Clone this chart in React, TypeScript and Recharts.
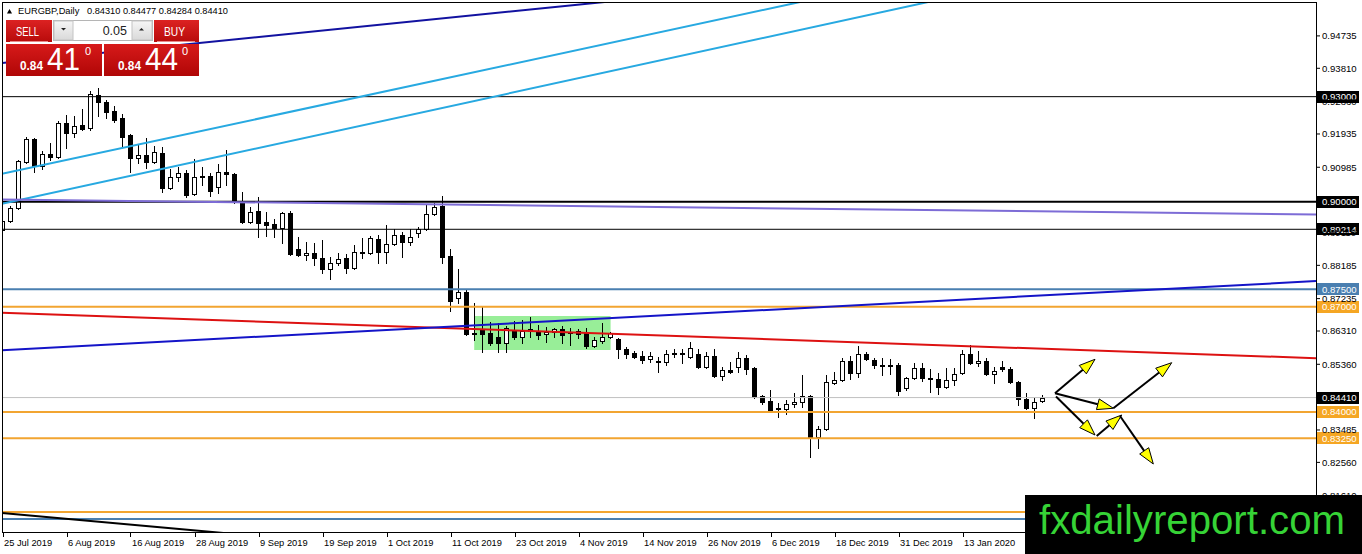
import React from 'react'
import { Bar, ComposedChart, ReferenceArea, ReferenceLine, XAxis, YAxis } from 'recharts'

// EURGBP daily, one entry per bar (bar 0 = 25 Jul 2019)
const OPEN = [
  0.89194, 0.89452, 0.89823, 0.91135, 0.91792, 0.91021, 0.91364, 0.91278, 0.92249, 0.91963,
  0.92191, 0.92106, 0.93048, 0.92848, 0.92591, 0.92391, 0.91906, 0.9125, 0.91335, 0.91135,
  0.91392, 0.90393, 0.90707, 0.90822, 0.90222, 0.90736, 0.90736, 0.90422, 0.9085, 0.90793,
  0.89994, 0.89423, 0.89737, 0.89423, 0.89366, 0.89252, 0.8968, 0.88652, 0.88481, 0.88538,
  0.88395, 0.88081, 0.88252, 0.88395, 0.88109, 0.88566, 0.88538, 0.88938, 0.88566, 0.88795,
  0.89052, 0.88852, 0.89109, 0.89223, 0.89651, 0.8988, 0.88452, 0.87253, 0.87424, 0.86254,
  0.8634, 0.86254, 0.8614, 0.85969, 0.8634, 0.8614, 0.86368, 0.86311, 0.86225, 0.86283,
  0.86368, 0.86283, 0.86311, 0.86283, 0.85883, 0.86026, 0.8614, 0.86083, 0.85797, 0.85683,
  0.85597, 0.85512, 0.85455, 0.85426, 0.85683, 0.85683, 0.85569, 0.85655, 0.85284, 0.85597,
  0.85027, 0.85198, 0.85284, 0.8554, 0.85255, 0.84456, 0.84313, 0.84113, 0.84085, 0.84227,
  0.84285, 0.84456, 0.83285, 0.83513, 0.84827, 0.84913, 0.85455, 0.85112, 0.85655, 0.85483,
  0.85341, 0.85341, 0.85341, 0.84684, 0.8497, 0.85255, 0.8497, 0.84941, 0.84713, 0.84913,
  0.85112, 0.85655, 0.85398, 0.85455, 0.85084, 0.85284, 0.85226, 0.84855, 0.8437, 0.84113,
  0.8431,
]
const HIGH = [
  0.89566, 0.8988, 0.91192, 0.91849, 0.9182, 0.91449, 0.91678, 0.92306, 0.92477, 0.92448,
  0.92648, 0.93162, 0.93248, 0.92905, 0.92734, 0.92505, 0.91935, 0.91649, 0.9182, 0.91592,
  0.91563, 0.90936, 0.90993, 0.90907, 0.91221, 0.90993, 0.90822, 0.91078, 0.91478, 0.90822,
  0.90279, 0.89851, 0.90137, 0.89708, 0.89509, 0.89708, 0.89737, 0.88995, 0.88852, 0.88823,
  0.88909, 0.88424, 0.88538, 0.88509, 0.88766, 0.88966, 0.89023, 0.89052, 0.89337, 0.89223,
  0.89137, 0.89223, 0.8928, 0.89937, 0.89965, 0.90165, 0.88652, 0.88081, 0.87482, 0.8711,
  0.86996, 0.86568, 0.8654, 0.86454, 0.86597, 0.86625, 0.86711, 0.86482, 0.86425, 0.86397,
  0.86454, 0.86397, 0.86368, 0.86397, 0.8614, 0.8654, 0.86283, 0.86111, 0.85854, 0.8574,
  0.8574, 0.85712, 0.85569, 0.85769, 0.85797, 0.85797, 0.85997, 0.85797, 0.85712, 0.85797,
  0.85284, 0.85426, 0.85712, 0.85626, 0.85284, 0.84484, 0.84627, 0.84256, 0.84342, 0.84541,
  0.85055, 0.84484, 0.83599, 0.85055, 0.85141, 0.8554, 0.85597, 0.85883, 0.85712, 0.8554,
  0.8554, 0.85512, 0.85398, 0.84998, 0.85398, 0.85398, 0.85226, 0.85112, 0.85255, 0.85255,
  0.85769, 0.85912, 0.8574, 0.8554, 0.85284, 0.85455, 0.85284, 0.84884, 0.84541, 0.84399,
  0.84477,
]
const LOW = [
  0.88852, 0.89423, 0.89794, 0.91107, 0.9085, 0.90936, 0.91192, 0.9125, 0.91535, 0.91849,
  0.92049, 0.92049, 0.92448, 0.92391, 0.92277, 0.91563, 0.9085, 0.91107, 0.90964, 0.91107,
  0.90279, 0.90365, 0.90593, 0.90137, 0.90194, 0.90479, 0.90165, 0.90251, 0.90479, 0.89965,
  0.89394, 0.89394, 0.88995, 0.89023, 0.88995, 0.88823, 0.88481, 0.88452, 0.88338, 0.88195,
  0.87967, 0.87795, 0.88195, 0.87967, 0.88081, 0.88395, 0.88509, 0.88252, 0.88252, 0.88766,
  0.88424, 0.88766, 0.88995, 0.89194, 0.89623, 0.88252, 0.86882, 0.8711, 0.86197, 0.86054,
  0.85712, 0.85912, 0.85712, 0.85712, 0.86083, 0.85969, 0.8614, 0.86083, 0.85997, 0.8614,
  0.85969, 0.85912, 0.86111, 0.85826, 0.85854, 0.85969, 0.86111, 0.8554, 0.8554, 0.8554,
  0.85398, 0.85426, 0.85141, 0.85341, 0.85569, 0.85398, 0.8554, 0.85255, 0.85255, 0.84998,
  0.84913, 0.85112, 0.85141, 0.85084, 0.84399, 0.84227, 0.84028, 0.83856, 0.83942, 0.84142,
  0.84142, 0.82714, 0.82971, 0.83485, 0.84798, 0.84884, 0.84941, 0.84998, 0.85483, 0.85255,
  0.85055, 0.85084, 0.84484, 0.84627, 0.84941, 0.84884, 0.8457, 0.84513, 0.84684, 0.8477,
  0.85084, 0.85369, 0.85312, 0.85055, 0.84827, 0.85169, 0.84827, 0.84199, 0.84085, 0.83828,
  0.84284,
]
const CLOSE = [
  0.89452, 0.89823, 0.91164, 0.91792, 0.91021, 0.91364, 0.91278, 0.92249, 0.91963, 0.92163,
  0.92077, 0.93077, 0.92848, 0.92563, 0.92334, 0.91849, 0.9125, 0.91335, 0.91135, 0.91421,
  0.90393, 0.90707, 0.90822, 0.90194, 0.90707, 0.90707, 0.90308, 0.9085, 0.90793, 0.89994,
  0.89423, 0.89708, 0.89394, 0.89337, 0.89252, 0.8968, 0.88509, 0.88481, 0.88538, 0.88395,
  0.88081, 0.88252, 0.88366, 0.88109, 0.88566, 0.88538, 0.88966, 0.88566, 0.88795, 0.89052,
  0.88852, 0.88995, 0.89223, 0.89651, 0.89851, 0.88424, 0.87167, 0.87424, 0.86225, 0.86225,
  0.86225, 0.85969, 0.85969, 0.86397, 0.8614, 0.86311, 0.86311, 0.86197, 0.86283, 0.86368,
  0.86197, 0.86254, 0.86225, 0.85883, 0.86054, 0.8614, 0.86254, 0.85797, 0.85655, 0.85569,
  0.85483, 0.85597, 0.85426, 0.85655, 0.85655, 0.85655, 0.85826, 0.85284, 0.85597, 0.85027,
  0.85198, 0.85141, 0.8554, 0.85226, 0.84427, 0.84285, 0.84056, 0.84085, 0.84227, 0.84285,
  0.84456, 0.83285, 0.83513, 0.84855, 0.84913, 0.85455, 0.85112, 0.85655, 0.85512, 0.85341,
  0.85312, 0.85312, 0.84598, 0.8497, 0.85255, 0.8497, 0.84941, 0.84713, 0.84913, 0.85084,
  0.85655, 0.85398, 0.85455, 0.85084, 0.85169, 0.85226, 0.84855, 0.8437, 0.84113, 0.84285,
  0.8441,
]

// bar index of every date label on the time axis
const DATE_TICKS = [0, 8, 16, 24, 32, 40, 48, 56, 64, 72, 80, 88, 96, 104, 112, 120]
const DATE_LABELS = [
  '25 Jul 2019', '6 Aug 2019', '16 Aug 2019', '28 Aug 2019', '9 Sep 2019', '19 Sep 2019',
  '1 Oct 2019', '11 Oct 2019', '23 Oct 2019', '4 Nov 2019', '14 Nov 2019', '26 Nov 2019',
  '6 Dec 2019', '18 Dec 2019', '31 Dec 2019', '13 Jan 2020',
]
// price scale labels that are not fully hidden by the level tags
const PRICE_TICKS = [
  0.94735, 0.9381, 0.9286, 0.91935, 0.90985, 0.8911, 0.88185, 0.87235, 0.8631,
  0.8536, 0.83485, 0.8256, 0.8161,
]

// horizontal levels (price)
const LEVELS = [0.93, 0.9, 0.89214, 0.875, 0.87, 0.8441, 0.84, 0.8325, 0.81144, 0.80944]
// trend lines: [bar, price, bar, price]
const TRENDS = [
  [-0.125, 0.93959, 76, 0.95721],
  [-0.125, 0.90796, 100, 0.9572],
  [-0.125, 0.89939, 116, 0.9572],
  [-0.125, 0.90065, 164.125, 0.89637],
  [-0.125, 0.86831, 164.125, 0.85534],
  [-0.125, 0.85763, 164.125, 0.87736],
  [-0.125, 0.81115, 29.6, 0.80502],
]
// arrows drawn on the right: [bar, price, bar, price]
const ARROWS = [
  [131.5, 0.84533, 136.5, 0.85503],
  [131.5, 0.84533, 138.79, 0.84105],
  [131.625, 0.84439, 136.5, 0.83342],
  [136.71, 0.83314, 139.84, 0.83913],
  [138.79, 0.84105, 146.09, 0.85406],
  [139.625, 0.83885, 143.79, 0.82514],
]
// consolidation box: bar range and price range
const BOX = { x1: 58.9, x2: 75.95, lo: 0.85769, hi: 0.8674 }

const LEVEL_LOOK = [
  { stroke: '#000', w: 1, tag: '#000' },
  { stroke: '#000', w: 2, tag: '#000' },
  { stroke: '#000', w: 1, tag: '#000' },
  { stroke: '#4a7fb0', w: 2, tag: '#4a7fb0' },
  { stroke: '#f2a531', w: 2, tag: '#f5a623' },
  { stroke: '#c0c0c0', w: 1, tag: '#000' },
  { stroke: '#f2a531', w: 2, tag: '#f5a623' },
  { stroke: '#f2a531', w: 2, tag: '#f5a623' },
  { stroke: '#f2a531', w: 2, tag: null },
  { stroke: '#4a7fb0', w: 2, tag: null },
]
const TREND_LOOK = ['#1212a0', '#27a9e1', '#27a9e1', '#7d6cd6', '#dd1111', '#1414c8', '#000']

const rows = OPEN.map((o, i) => ({
  i,
  o,
  h: HIGH[i],
  l: LOW[i],
  c: CLOSE[i],
  range: [LOW[i], HIGH[i]],
}))

const FONT = "'Liberation Sans', Arial, sans-serif"

function Candle(props: any) {
  const { x, y, width, height, payload } = props
  if (!payload || x == null) return null
  const top = Math.min(y, y + height)
  const bot = Math.max(y, y + height)
  const span = payload.h - payload.l
  const toY = (v: number) => (span > 0 ? top + ((payload.h - v) / span) * (bot - top) : top)
  const cx = Math.floor(x + width / 2) + 0.5
  const bTop = Math.round(toY(Math.max(payload.o, payload.c))) + 0.5
  const bBot = Math.round(toY(Math.min(payload.o, payload.c))) + 0.5
  const up = payload.c >= payload.o
  return (
    <g shapeRendering="crispEdges">
      <line x1={cx} x2={cx} y1={Math.round(top)} y2={Math.round(bot) + 1} stroke="#000" />
      {bBot - bTop < 1 ? (
        <line x1={cx - 2.5} x2={cx + 2.5} y1={bTop} y2={bTop} stroke="#000" />
      ) : (
        <rect x={cx - 2} y={bTop} width={4} height={bBot - bTop} fill={up ? '#fff' : '#000'} stroke="#000" />
      )}
    </g>
  )
}

function DateTick(props: any) {
  const { x, payload } = props
  const k = DATE_TICKS.indexOf(payload.value)
  const px = Math.floor(x) + 0.5
  return (
    <g>
      <line x1={px} x2={px} y1={533} y2={537} stroke="#000" />
      <text x={x + 1} y={546} fontSize={9.3} fill="#000" textAnchor="start" fontFamily={FONT}>
        {DATE_LABELS[k]}
      </text>
    </g>
  )
}

function priceTag(text: string, bg: string) {
  return (p: any) => {
    const vb = p.viewBox
    if (!vb) return null
    const x = vb.x + vb.width + 1
    const y = vb.y
    return (
      <g>
        <rect x={x} y={Math.round(y) - 6} width={42} height={12} fill={bg} />
        <text x={x + 5} y={y} dy="0.35em" fontSize={9.6} fill="#fff" fontFamily={FONT}>
          {text}
        </text>
      </g>
    )
  }
}

function Arrow(props: any) {
  const { x1, y1, x2, y2 } = props
  const dx = x2 - x1
  const dy = y2 - y1
  const len = Math.hypot(dx, dy) || 1
  const ux = dx / len
  const uy = dy / len
  const hl = 16
  const hw = 5.5
  const bx = x2 - ux * hl
  const by = y2 - uy * hl
  const pts = `${x2},${y2} ${bx - uy * hw},${by + ux * hw} ${bx + uy * hw},${by - ux * hw}`
  return (
    <g>
      <line x1={x1} y1={y1} x2={bx} y2={by} stroke="#000" strokeWidth={2} />
      <polygon points={pts} fill="#ffff00" stroke="#000" strokeWidth={1} />
    </g>
  )
}

function TradePanel() {
  return (
    <svg width={240} height={80} style={{ position: 'absolute', left: 0, top: 0 }} fontFamily={FONT}>
      <defs>
        <linearGradient id="redBtn" x1="0" y1="0" x2="0" y2="1">
          <stop offset="0" stopColor="#dc2222" />
          <stop offset="1" stopColor="#b80b0b" />
        </linearGradient>
        <linearGradient id="redBox" x1="0" y1="0" x2="0" y2="1">
          <stop offset="0" stopColor="#d71a1a" />
          <stop offset="1" stopColor="#b00606" />
        </linearGradient>
        <linearGradient id="grayBtn" x1="0" y1="0" x2="0" y2="1">
          <stop offset="0" stopColor="#f6f6f6" />
          <stop offset="1" stopColor="#d9d9d9" />
        </linearGradient>
      </defs>
      <polygon points="7,13.5 9.5,9 12,13.5" fill="#000" />
      <text x={18} y={13.5} fontSize={9.3} fill="#000">EURGBP,Daily</text>
      <text x={87} y={13.5} fontSize={9.3} fill="#000" textLength={141} lengthAdjust="spacingAndGlyphs">
        0.84310 0.84477 0.84284 0.84410
      </text>

      <rect x={6} y={20} width={46} height={22} fill="url(#redBtn)" />
      <line x1={10} x2={48} y1={41.5} y2={41.5} stroke="#ea8a8a" />
      <text x={16} y={36} fontSize={13} fill="#fff" textLength={23} lengthAdjust="spacingAndGlyphs">SELL</text>

      <rect x={53.5} y={20.5} width={99} height={20} fill="#fff" stroke="#b5b5b5" />
      <rect x={54} y={21} width={19} height={19} fill="url(#grayBtn)" stroke="#c4c4c4" />
      <polygon points="61,28 66,28 63.5,30.5" fill="#222" />
      <text x={127} y={35} fontSize={12.5} fill="#222" textAnchor="end">0.05</text>
      <rect x={132} y={21} width={20} height={19} fill="url(#grayBtn)" stroke="#c4c4c4" />
      <polygon points="139,30.5 144,30.5 141.5,28" fill="#222" />

      <rect x={154} y={20} width={45} height={22} fill="url(#redBtn)" />
      <line x1={157} x2={195} y1={41.5} y2={41.5} stroke="#ea8a8a" />
      <text x={164} y={36} fontSize={13} fill="#fff" textLength={21} lengthAdjust="spacingAndGlyphs">BUY</text>

      <rect x={6} y={44} width={96} height={32} fill="url(#redBox)" />
      <text x={20} y={70} fontSize={12} fontWeight="bold" fill="#fff" textLength={23} lengthAdjust="spacingAndGlyphs">0.84</text>
      <text x={47} y={70} fontSize={31} fill="#fff" textLength={33} lengthAdjust="spacingAndGlyphs">41</text>
      <text x={85} y={55} fontSize={11} fill="#fff">0</text>

      <rect x={104} y={44} width={95} height={32} fill="url(#redBox)" />
      <text x={118} y={70} fontSize={12} fontWeight="bold" fill="#fff" textLength={23} lengthAdjust="spacingAndGlyphs">0.84</text>
      <text x={145} y={70} fontSize={31} fill="#fff" textLength={33} lengthAdjust="spacingAndGlyphs">44</text>
      <text x={182} y={55} fontSize={11} fill="#fff">0</text>
    </svg>
  )
}

function Brand() {
  return (
    <svg width={337} height={59} style={{ position: 'absolute', left: 1025, top: 495 }}>
      <rect width={337} height={59} fill="#000" />
      <text x={14} y={39} fontSize={40} fill="#36d336" fontFamily={FONT} textLength={306} lengthAdjust="spacingAndGlyphs">
        fxdailyreport.com
      </text>
    </svg>
  )
}

export default function App() {
  return (
    <div
      style={{
        position: 'absolute',
        left: 0,
        top: 0,
        width: 1362,
        height: 554,
        background: '#fff',
        overflow: 'hidden',
        fontFamily: FONT,
      }}
    >
      <ComposedChart width={1362} height={554} data={rows} margin={{ top: 3, right: 0, bottom: 0, left: 2 }}>
        <XAxis
          dataKey="i"
          type="number"
          domain={[-0.125, 164.125]}
          allowDataOverflow
          ticks={DATE_TICKS}
          interval={0}
          axisLine={false}
          tickLine={false}
          height={21}
          tick={(p: any) => <DateTick {...p} />}
        />
        <YAxis
          orientation="right"
          type="number"
          domain={[0.80544, 0.95674]}
          allowDataOverflow
          ticks={PRICE_TICKS}
          interval={0}
          width={46}
          axisLine={false}
          tickLine={{ stroke: '#000' }}
          tickSize={4}
          tickMargin={2}
          tick={{ fill: '#000', fontSize: 9.6, fontFamily: FONT }}
          tickFormatter={(v: number) => v.toFixed(5)}
        />
        <ReferenceArea x1={BOX.x1} x2={BOX.x2} y1={BOX.lo} y2={BOX.hi} fill="#98ee98" fillOpacity={1} stroke="none" />
        {LEVELS.map((lv, k) => (
          <ReferenceLine
            key={'lv' + k}
            y={lv}
            stroke={LEVEL_LOOK[k].stroke}
            strokeWidth={LEVEL_LOOK[k].w}
            label={LEVEL_LOOK[k].tag ? priceTag(lv.toFixed(5), LEVEL_LOOK[k].tag as string) : undefined}
          />
        ))}
        {TRENDS.map((t, k) => (
          <ReferenceLine
            key={'tr' + k}
            segment={[
              { x: t[0], y: t[1] },
              { x: t[2], y: t[3] },
            ]}
            stroke={TREND_LOOK[k]}
            strokeWidth={2}
            ifOverflow="hidden"
          />
        ))}
        <Bar dataKey="range" barSize={5} isAnimationActive={false} shape={(p: any) => <Candle {...p} />} />
        {ARROWS.map((a, k) => (
          <ReferenceLine
            key={'ar' + k}
            segment={[
              { x: a[0], y: a[1] },
              { x: a[2], y: a[3] },
            ]}
            ifOverflow="visible"
            shape={(p: any) => <Arrow {...p} />}
          />
        ))}
      </ComposedChart>
      <div
        style={{
          position: 'absolute',
          left: 2,
          top: 2,
          width: 1315,
          height: 531,
          border: '1px solid #000',
          boxSizing: 'border-box',
          pointerEvents: 'none',
        }}
      />
      <TradePanel />
      <Brand />
    </div>
  )
}
